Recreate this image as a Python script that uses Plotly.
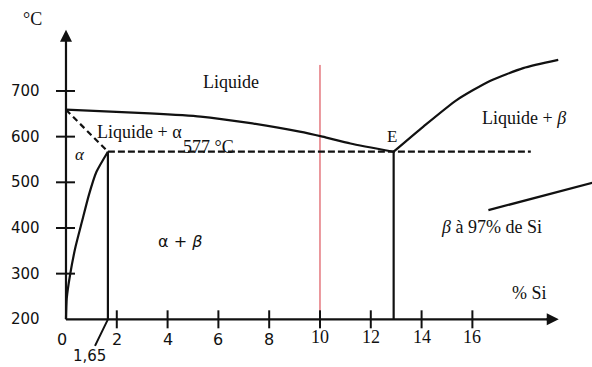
import plotly.graph_objects as go

# ---------------- data ----------------
# liquidus, Al-rich side (x in % Si, T in °C)
liq_al_x = [0, 3.3, 5.3, 7.2, 9.2, 10.1, 11.2, 12.9]
liq_al_t = [659, 651, 644, 630, 611, 600, 585, 567]
# liquidus, Si-rich side
liq_si_x = [12.9, 14.07, 15.38, 16.69, 18.0, 19.38]
liq_si_t = [567, 622, 680, 722, 750, 768]
# solidus of alpha (dashed)
sol_a_x = [0, 1.65]
sol_a_t = [659, 567]
# solvus of alpha
solvus_x = [1.65, 1.2, 0.9, 0.63, 0.36, 0.16, 0.03, 0]
solvus_t = [567, 523, 472, 414, 355, 297, 246, 200]
# eutectic isotherm (dashed)
eut_x = [1.65, 18.3]
eut_t = [567, 567]
# vertical limits
v165_x = [1.65, 1.65]
v165_t = [567, 200]
veut_x = [12.9, 12.9]
veut_t = [567, 200]
# red composition line
red_x = [10, 10]
red_t = [200, 757]
# pointer line to "beta a 97 % de Si"
beta_x = [16.63, 21.0]
beta_t = [439, 503]
# axes
xaxis_x = [0, 19.2]
xaxis_t = [200, 200]
yaxis_x = [0, 0]
yaxis_t = [200, 826]

x_ticks = [0, 2, 4, 6, 8, 10, 12, 14, 16]
x_tick_labels = ["0", "2", "4", "6", "8", "10", "12", "14", "16"]
y_ticks = [200, 300, 400, 500, 600, 700]
y_tick_labels = ["200", "300", "400", "500", "600", "700"]

INK = "#111111"
SERIF = "Liberation Serif, Times New Roman, serif"
SANS = "DejaVu Sans, Verdana, sans-serif"

fig = go.Figure()


def line(x, y, color=INK, width=2.2, dash="solid", shape="linear"):
    fig.add_trace(go.Scatter(x=x, y=y, mode="lines",
                             line=dict(color=color, width=width, dash=dash,
                                       shape=shape, smoothing=0.6),
                             hoverinfo="skip", showlegend=False))


line(xaxis_x, xaxis_t)
line(yaxis_x, yaxis_t)
line(red_x, red_t, color="rgb(214,52,62)", width=1)
line(liq_al_x, liq_al_t, shape="spline")
line(liq_si_x, liq_si_t, shape="spline")
line(sol_a_x, sol_a_t, dash="6px,4px")
line(solvus_x, solvus_t, shape="spline")
line(eut_x, eut_t, dash="7px,3px")
line(v165_x, v165_t)
line(veut_x, veut_t)
line(beta_x, beta_t)

shapes = []
for v in x_ticks[1:]:
    shapes.append(dict(type="line", xref="x", yref="y", ysizemode="pixel",
                       yanchor=200, x0=v, x1=v, y0=-9, y1=9,
                       line=dict(color=INK, width=2)))
for v in y_ticks[1:]:
    shapes.append(dict(type="line", xref="x", yref="y", xsizemode="pixel",
                       xanchor=0, y0=v, y1=v, x0=-10, x1=9,
                       line=dict(color=INK, width=2)))

ann = []
# arrow heads of the axes
ann.append(dict(x=yaxis_x[1], y=yaxis_t[1] + 8, xref="x", yref="y", text="",
                showarrow=True, ax=0, ay=14, arrowhead=2, arrowsize=1.2,
                arrowwidth=2, arrowcolor=INK))
ann.append(dict(x=xaxis_x[1] + 0.2, y=200, xref="x", yref="y", text="",
                showarrow=True, ax=-14, ay=0, arrowhead=2, arrowsize=1.2,
                arrowwidth=2, arrowcolor=INK))

for v, t in zip(y_ticks, y_tick_labels):
    ann.append(dict(x=0, y=v, xref="x", yref="y", text=t, showarrow=False,
                    xanchor="right", yanchor="middle", xshift=-24,
                    font=dict(family=SANS, size=15, color=INK)))
for v, t in zip(x_ticks, x_tick_labels):
    serif = v >= 10
    ann.append(dict(x=v, y=200, xref="x", yref="y", text=t, showarrow=False,
                    xanchor="center", yanchor="middle",
                    yshift=-18 if serif else -20,
                    xshift=-4 if v == 0 else 0,
                    font=dict(family=SERIF if serif else SANS,
                              size=18 if serif else 16, color=INK)))

# "1,65" with pointer
ann.append(dict(x=v165_x[0], y=200, xref="x", yref="y", text="1,65",
                showarrow=True, ax=-18, ay=37, arrowhead=0, arrowwidth=2,
                arrowcolor=INK, standoff=0,
                font=dict(family=SANS, size=15, color=INK)))


def label(x, y, text, size=18, family=SERIF):
    ann.append(dict(x=x, y=y, xref="x", yref="y", text=text, showarrow=False,
                    xanchor="center", yanchor="middle",
                    font=dict(family=family, size=size, color=INK)))


label(-1.30, 858, "°C", size=18)
label(6.5, 720, "Liquide", size=18)
label(2.91, 611, "Liquide + α", size=18)
label(5.63, 578, "577 °C", size=18)
label(0.55, 560, "<i>α</i>", size=17)
label(4.49, 371, "α + <i>β</i>", size=16, family=SANS)
label(12.85, 600, "E", size=17)
label(18.03, 640, "Liquide + <i>β</i>", size=18)
label(16.76, 403, "<i>β</i> à 97% de Si", size=18)
label(18.24, 257, "% Si", size=18)

fig.update_layout(
    width=592, height=367,
    margin=dict(l=0, r=0, t=0, b=0),
    paper_bgcolor="white", plot_bgcolor="white",
    xaxis=dict(range=[-2.598, 20.709], visible=False, fixedrange=True),
    yaxis=dict(range=[95.6, 899.2], visible=False, fixedrange=True),
    shapes=shapes, annotations=ann, showlegend=False,
)

fig.write_html(
    "out.html",
    config={"displayModeBar": False},
    post_script="document.body.style.margin='0';document.body.style.overflow='hidden';",
)
